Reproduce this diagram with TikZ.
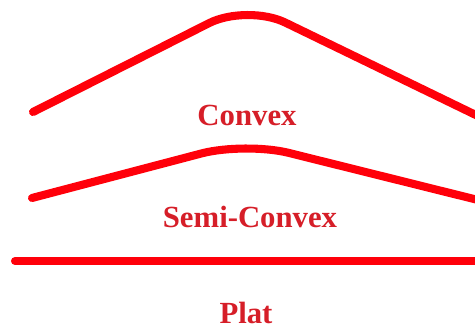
\documentclass[tikz,border=0pt]{standalone}
\usepackage{fontspec}
\setmainfont{Liberation Serif}
\usepackage{tikz}

\definecolor{lineRed}{RGB}{255,0,10}
\definecolor{textRed}{RGB}{214,30,40}

\begin{document}
\begin{tikzpicture}[
  x=0.02cm, y=-0.02cm,
  profil/.style={draw=lineRed, line width=4.6pt, line cap=round},
  tag/.style={text=textRed, inner sep=0pt, anchor=base,
    font=\fontsize{17.5}{20}\selectfont\bfseries}
]
\useasboundingbox (0,0) rectangle (475,327);
\clip (0,0) rectangle (475,327);

\draw[profil, rounded corners=0.85cm] (33,112) -- (247,4) -- (482,118);
\draw[profil, rounded corners=0.9cm] (32,198) -- (245,142) -- (482,201);
\draw[profil] (15,261) -- (482,261);

\node[tag] (convex) at (247,126) {Convex};
\node[tag] (semi) at (250,227) {Semi-Convex};
\node[tag] (plat) at (246,323) {Plat};
\end{tikzpicture}
\end{document}
